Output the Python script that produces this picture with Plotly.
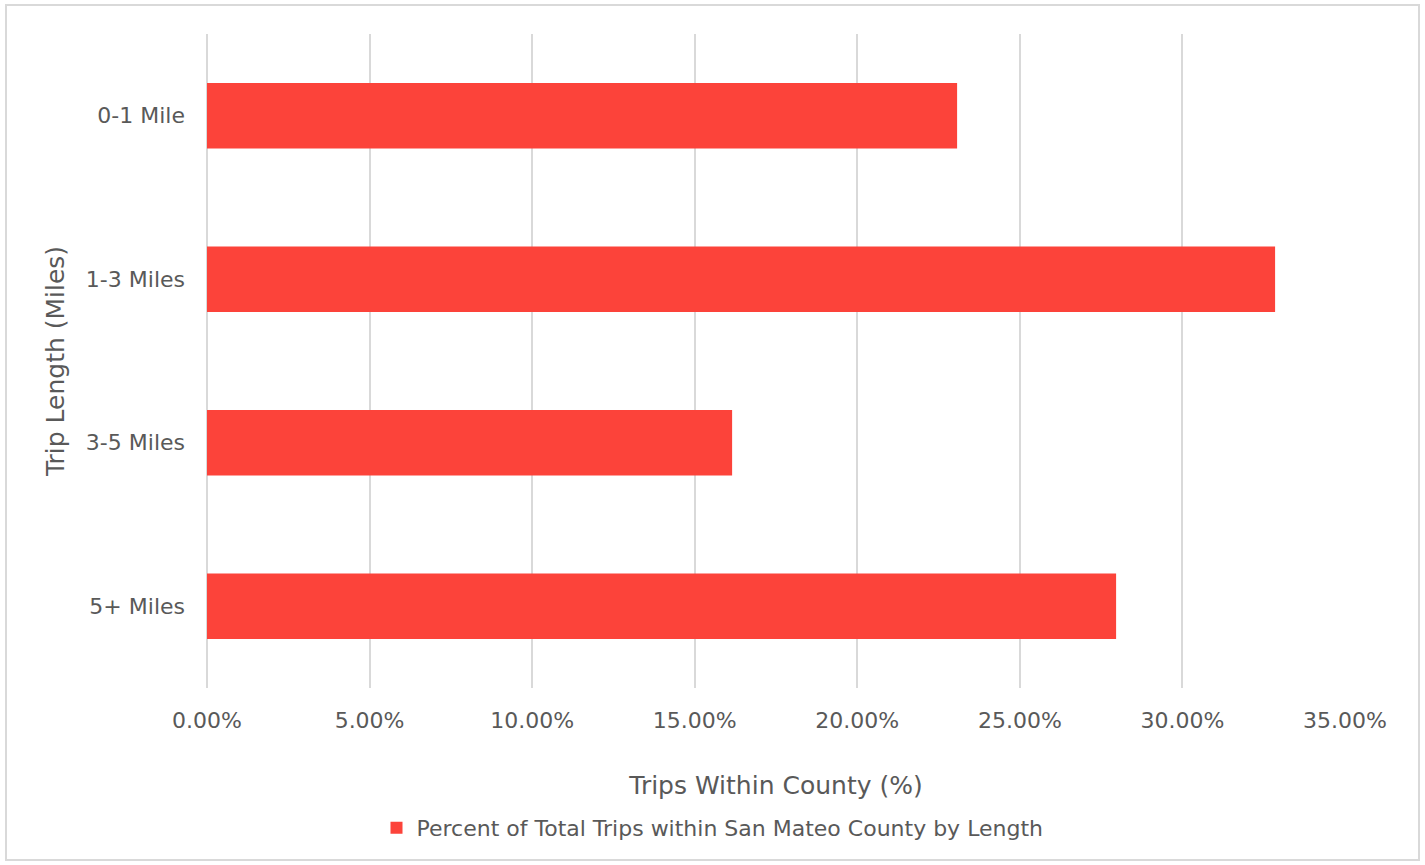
import plotly.graph_objects as go

categories = ["0-1 Mile", "1-3 Miles", "3-5 Miles", "5+ Miles"]
values = [23.07, 32.85, 16.15, 27.96]
x_ticks = [0, 5, 10, 15, 20, 25, 30, 35]
x_tick_text = ["0.00%", "5.00%", "10.00%", "15.00%", "20.00%", "25.00%", "30.00%", "35.00%"]
series_name = "Percent of Total Trips within San Mateo County by Length"

FONT = "DejaVu Sans"
TXT = "#595959"
GRID = "#d9d9d9"
BAR = "#fc433a"

fig = go.Figure(go.Bar(
    x=values, y=categories, orientation="h", name=series_name,
    marker=dict(color=BAR, line=dict(width=0)),
    showlegend=True,
))

fig.update_layout(
    width=1425, height=865,
    paper_bgcolor="white", plot_bgcolor="white",
    margin=dict(l=207, r=80, t=34, b=177),
    bargap=0.6,
    font=dict(family=FONT, color=TXT, size=22),
    xaxis=dict(
        range=[0, 35], tickvals=x_ticks, ticktext=x_tick_text,
        showgrid=True, gridcolor=GRID, gridwidth=2,
        zeroline=True, zerolinecolor=GRID, zerolinewidth=2,
        showline=False, ticks="", ticklabelstandoff=17,
        tickfont=dict(size=22, color=TXT, family=FONT),
        title=dict(text="Trips Within County (%)", font=dict(size=25, color=TXT, family=FONT), standoff=44),
    ),
    yaxis=dict(
        autorange=False, range=[3.5, -0.5], type="category",
        categoryorder="array", categoryarray=categories,
        showgrid=False, zeroline=False, showline=False, ticks="",
        ticklabelstandoff=21,
        tickfont=dict(size=22, color=TXT, family=FONT),
        title=dict(text="Trip Length (Miles)", font=dict(size=25, color=TXT, family=FONT), standoff=14),
    ),
    legend=dict(
        orientation="h", x=0.5, xanchor="center", xref="container",
        y=37/865, yanchor="middle", yref="container",
        font=dict(size=22, color=TXT, family=FONT),
        itemsizing="constant", itemwidth=30,
    ),
    shapes=[dict(type="rect", xref="paper", yref="paper",
                 x0=-201/1138, x1=1212/1138, y0=-172/654, y1=1+29/654,
                 line=dict(color=GRID, width=2), fillcolor="rgba(0,0,0,0)", layer="below")],
)

fig.write_html("out.html", config={"displayModeBar": False},
               post_script="document.body.style.margin='0';document.body.style.overflow='hidden';")
